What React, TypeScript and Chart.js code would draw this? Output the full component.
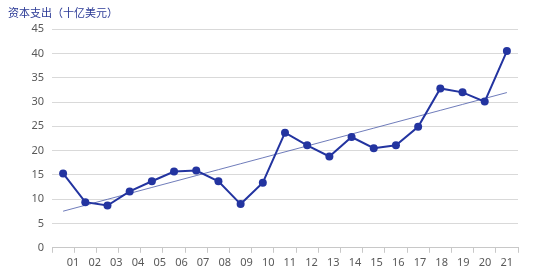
import React, { useEffect, useRef } from "react";
import { Chart, registerables } from "chart.js";

Chart.register(...registerables);

const title = "资本支出（十亿美元）";
const xLabels = ["01","02","03","04","05","06","07","08","09","10","11","12","13","14","15","16","17","18","19","20","21"];
const capex = [15.3, 9.4, 8.7, 11.6, 13.7, 15.7, 15.9, 13.7, 9.0, 13.4, 23.7, 21.1, 18.8, 22.8, 20.5, 21.1, 24.9, 32.8, 32.0, 30.1, 40.5];
const yTicks = [0, 5, 10, 15, 20, 25, 30, 35, 40, 45];

function linearTrend(values: number[]): number[] {
  const n = values.length;
  const xs = values.map((_, i) => i + 1);
  const mx = xs.reduce((a, b) => a + b, 0) / n;
  const my = values.reduce((a, b) => a + b, 0) / n;
  let sxy = 0, sxx = 0;
  xs.forEach((x, i) => { sxy += (x - mx) * (values[i] - my); sxx += (x - mx) * (x - mx); });
  const slope = sxy / sxx;
  const b = my - slope * mx;
  return xs.map((x) => b + slope * x);
}

const NUM_FONT = '"Noto Sans", "Noto Sans CJK SC", sans-serif';

export default function App() {
  const ref = useRef<HTMLCanvasElement | null>(null);
  useEffect(() => {
    if (!ref.current) return;
    const chart = new Chart(ref.current, {
      type: "line",
      data: {
        labels: xLabels,
        datasets: [
          {
            label: "capex",
            data: capex,
            xAxisID: "x",
            yAxisID: "y",
            borderColor: "#2334A0",
            backgroundColor: "#2334A0",
            borderWidth: 2,
            pointRadius: 4,
            pointBorderWidth: 0,
            tension: 0,
          },
          {
            label: "trend",
            data: linearTrend(capex),
            xAxisID: "x",
            yAxisID: "y",
            borderColor: "#4A5AA8",
            borderWidth: 0.8,
            pointRadius: 0,
            tension: 0,
          },
        ],
      },
      options: {
        responsive: false,
        animation: false,
        layout: { padding: { left: 8, right: 16, top: 0, bottom: 4 } },
        plugins: {
          legend: { display: false },
          tooltip: { enabled: false },
          title: {
            display: true,
            text: title,
            align: "start",
            color: "#2B3A96",
            font: { family: '"Noto Sans CJK SC", sans-serif', size: 11, weight: "normal" },
            padding: { top: 6, bottom: 10 },
          },
        },
        scales: {
          x: {
            type: "category",
            position: "bottom",
            offset: true,
            weight: 0,
            grid: { display: true, drawOnChartArea: false, drawTicks: true, tickLength: 5, offset: true, color: "#c8c8c8" },
            border: { display: true, color: "#c8c8c8" },
            ticks: { display: false },
          },
          xl: {
            type: "linear",
            position: "bottom",
            weight: 1,
            min: 0.032,
            max: 21.52,
            grid: { display: false, drawTicks: false },
            border: { display: false },
            afterBuildTicks: (axis: any) => {
              axis.ticks = xLabels.map((_, i) => ({ value: i + 1 }));
            },
            ticks: {
              autoSkip: false,
              maxRotation: 0,
              padding: 3,
              color: "#595959",
              font: { family: NUM_FONT, size: 11 },
              callback: (v: any) => xLabels[Math.round(Number(v)) - 1] ?? "",
            },
          },
          y: {
            min: 0,
            max: 45,
            afterBuildTicks: (axis: any) => {
              axis.ticks = yTicks.map((v) => ({ value: v }));
            },
            afterFit: (axis: any) => {
              axis.width = 44;
            },
            grid: { color: "#d9d9d9", drawTicks: false, lineWidth: 1 },
            border: { display: false },
            ticks: {
              padding: 8,
              color: "#595959",
              font: { family: NUM_FONT, size: 11 },
            },
          },
        },
      },
    });
    return () => chart.destroy();
  }, []);
  return (
    <div style={{ position: "fixed", left: 0, top: 0, width: 534, height: 276, background: "#fff" }}>
      <canvas ref={ref} width={534} height={276} style={{ display: "block", width: 534, height: 276 }} />
    </div>
  );
}
